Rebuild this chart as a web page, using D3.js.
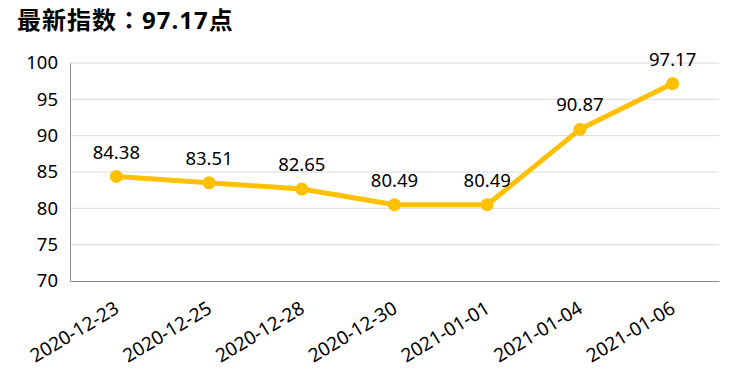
<!DOCTYPE html>
<html>
<head>
<meta charset="utf-8">
<script src="https://cdn.jsdelivr.net/npm/d3@7/dist/d3.min.js"></script>
<style>
  body { margin: 0; background: #fff; }
  text { font-family: "Noto Sans", "Noto Sans CJK SC", sans-serif; }
</style>
</head>
<body>
<svg id="chart" width="736" height="381"></svg>
<script>
var dates = ["2020-12-23", "2020-12-25", "2020-12-28", "2020-12-30", "2021-01-01", "2021-01-04", "2021-01-06"];
var values = [84.38, 83.51, 82.65, 80.49, 80.49, 90.87, 97.17];
var yTicks = [70, 75, 80, 85, 90, 95, 100];

var svg = d3.select("#chart"),
    margin = {top: 63, right: 17, bottom: 100, left: 70},
    width = +svg.attr("width") - margin.left - margin.right,
    height = +svg.attr("height") - margin.top - margin.bottom;

var title = svg.append("text")
    .attr("x", 17).attr("y", 29)
    .attr("font-size", 24).attr("font-weight", "bold")
    .attr("letter-spacing", 1);
title.append("tspan").style("font-family", "'Noto Sans CJK TC', sans-serif").text("最新指数：");
title.append("tspan").style("font-family", "'Noto Sans', sans-serif").text("97.17");
title.append("tspan").style("font-family", "'Noto Sans CJK TC', sans-serif").text("点");

var g = svg.append("g").attr("transform", "translate(" + margin.left + "," + margin.top + ")");

var x = d3.scaleBand().domain(dates).range([0, width]);
var y = d3.scaleLinear().domain([70, 100]).range([height, 0]);

// gridlines
g.selectAll(".grid")
    .data(yTicks.slice(1))
    .enter().append("line")
    .attr("x1", 0).attr("x2", width)
    .attr("y1", function (d) { return y(d); })
    .attr("y2", function (d) { return y(d); })
    .attr("stroke", "#d9d9d9").attr("stroke-width", 1);

// y axis
var yAxis = g.append("g").call(d3.axisLeft(y).tickValues(yTicks).tickSize(0).tickPadding(12));
yAxis.select(".domain").attr("stroke", "#888");
yAxis.selectAll("text").attr("font-size", 18.5).attr("fill", "#000");

// x axis
var xAxis = g.append("g").attr("transform", "translate(0," + height + ")")
    .call(d3.axisBottom(x).tickSize(0).tickPadding(0));
xAxis.select(".domain").attr("stroke", "#888");
xAxis.selectAll("text")
    .attr("font-size", 19).attr("fill", "#000")
    .attr("text-anchor", "end")
    .attr("dy", 0)
    .attr("transform", "translate(4,31) rotate(-31)");

var line = d3.line()
    .x(function (d, i) { return x(dates[i]) + x.bandwidth() / 2; })
    .y(function (d) { return y(d); });

g.append("path")
    .datum(values)
    .attr("d", line)
    .attr("fill", "none")
    .attr("stroke", "#ffc000")
    .attr("stroke-width", 5)
    .attr("stroke-linejoin", "round");

g.selectAll(".dot")
    .data(values)
    .enter().append("circle")
    .attr("cx", function (d, i) { return x(dates[i]) + x.bandwidth() / 2; })
    .attr("cy", function (d) { return y(d); })
    .attr("r", 6.5)
    .attr("fill", "#ffc000");

g.selectAll(".lbl")
    .data(values)
    .enter().append("text")
    .attr("x", function (d, i) { return x(dates[i]) + x.bandwidth() / 2; })
    .attr("y", function (d) { return y(d) - 18; })
    .attr("text-anchor", "middle")
    .attr("font-size", 18.5)
    .attr("fill", "#000")
    .text(function (d) { return d.toFixed(2); });
</script>
</body>
</html>
